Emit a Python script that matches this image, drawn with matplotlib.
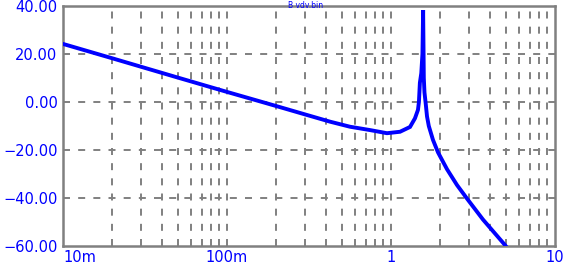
import matplotlib
matplotlib.use("Agg")
import matplotlib.pyplot as plt
from matplotlib.ticker import FixedLocator, NullFormatter, FuncFormatter

# Frequency (Hz) and magnitude (dB)
freq = [0.01, 0.02, 0.05, 0.1, 0.2, 0.3, 0.425, 0.562, 0.745, 0.945, 1.135,
        1.306, 1.40, 1.46, 1.48, 1.50, 1.53, 1.555, 1.57, 1.585, 1.60, 1.63,
        1.658, 1.70, 1.803, 1.935, 2.195, 2.526, 2.948, 3.64, 4.955, 5.4]
mag_db = [24.2, 18.2, 10.2, 4.2, -1.7, -5.2, -8.2, -10.3, -11.7, -13.0, -12.4,
          -10.4, -6.8, -3.3, 0.0, 8.0, 12.0, 20.0, 38.3, 10.0, 4.0, -1.0,
          -6.0, -10.0, -15.8, -21.0, -28.0, -34.6, -40.8, -49.0, -59.6, -63.0]

yticks = [-60, -40, -20, 0, 20, 40]
xticks = [0.01, 0.1, 1, 10]
xtick_labels = ["10m", "100m", "1", "10"]
title = "B vdv.bin"

blue = "#0000FF"
gray = "#808080"

fig = plt.figure(figsize=(5.67, 2.72), dpi=100)
ax = fig.add_axes([63/567, 1-246/272, (555-63)/567, (246-6)/272])

ax.plot(freq, mag_db, color=blue, lw=2.8, solid_joinstyle="miter", zorder=3)
ax.set_xscale("log")
ax.set_xlim(0.01, 10)
ax.set_ylim(-60, 40)

# grid
minor = [m * 10.0**e for e in (-2, -1, 0) for m in range(2, 10)]
for x in minor + [0.1, 1]:
    ax.axvline(x, color=gray, lw=1.4, dashes=(3.6, 4.2), zorder=1)
for y in [-40, -20, 0, 20]:
    ax.axhline(y, color=gray, lw=1.4, dashes=(3.6, 4.2), zorder=1)

for s in ax.spines.values():
    s.set_color(gray)
    s.set_linewidth(1.8)

ax.xaxis.set_major_locator(FixedLocator(xticks))
ax.xaxis.set_minor_locator(FixedLocator(minor))
ax.xaxis.set_minor_formatter(NullFormatter())
ax.set_xticklabels(xtick_labels)
ax.set_yticks(yticks)
ax.yaxis.set_major_formatter(FuncFormatter(lambda v, p: ("\u2212" if v < 0 else "") + "%.2f" % abs(v)))
ax.tick_params(axis="both", which="both", length=0, colors=blue, labelsize=10.5)
ax.tick_params(axis="y", pad=4)
ax.tick_params(axis="x", pad=3)
labels = ax.get_xticklabels()
labels[0].set_horizontalalignment("left")

fig.text(306/567, 1-0.5/272, title, color=blue, fontsize=5.5, ha="center", va="top")

fig.savefig("out.png", dpi=100)
